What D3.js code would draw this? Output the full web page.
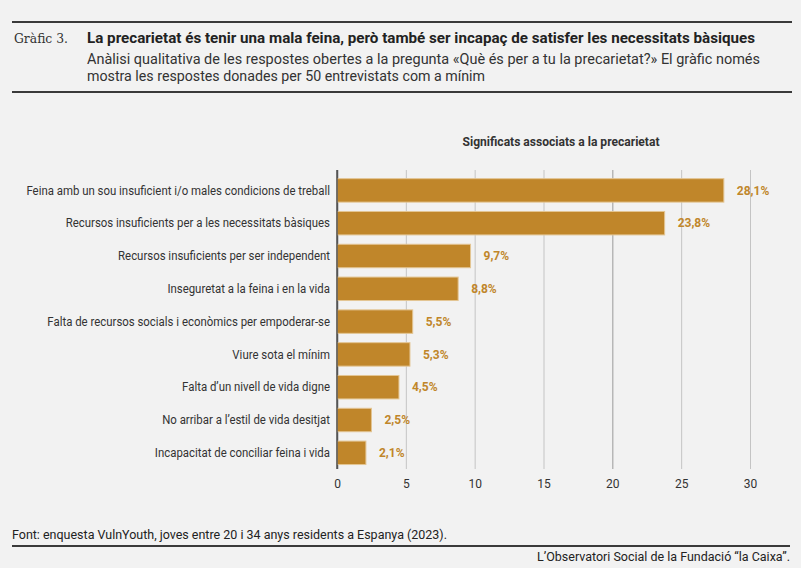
<!DOCTYPE html>
<html>
<head>
<meta charset="utf-8">
<script src="https://cdn.jsdelivr.net/npm/d3@7"></script>
<style>
  html, body { margin: 0; padding: 0; background: #f2f2f2; }
  svg { display: block; font-family: Roboto, "Noto Sans", sans-serif; }
</style>
</head>
<body>
<svg id="chart"></svg>
<script>
// Data
const categories = [
  "Feina amb un sou insuficient i/o males condicions de treball",
  "Recursos insuficients per a les necessitats bàsiques",
  "Recursos insuficients per ser independent",
  "Inseguretat a la feina i en la vida",
  "Falta de recursos socials i econòmics per empoderar-se",
  "Viure sota el mínim",
  "Falta d’un nivell de vida digne",
  "No arribar a l’estil de vida desitjat",
  "Incapacitat de conciliar feina i vida"
];
const values = [28.1, 23.8, 9.7, 8.8, 5.5, 5.3, 4.5, 2.5, 2.1];
const xTicks = [0, 5, 10, 15, 20, 25, 30];

const W = 801, H = 568;
const barColor = "#c0862a";

const svg = d3.select("#chart")
    .attr("width", W)
    .attr("height", H);

svg.append("rect").attr("width", W).attr("height", H).attr("fill", "#f2f2f2");

// stretch/squeeze a text element to a given width (source font is condensed)
function fit(sel, w) {
    sel.attr("textLength", w).attr("lengthAdjust", "spacingAndGlyphs");
    return sel;
}

// Header
svg.append("line").attr("x1", 12).attr("x2", 792).attr("y1", 22).attr("y2", 22)
    .attr("stroke", "#3a3a3a").attr("stroke-width", 2);
svg.append("line").attr("x1", 12).attr("x2", 792).attr("y1", 92).attr("y2", 92)
    .attr("stroke", "#3a3a3a").attr("stroke-width", 2);

svg.append("text")
    .attr("x", 14).attr("y", 43)
    .style("font-family", "'DejaVu Serif', 'Liberation Serif', serif")
    .style("font-size", "13px")
    .attr("fill", "#333")
    .text("Gràfic 3.")
    .call(s => fit(s, 54));

svg.append("text")
    .attr("x", 87).attr("y", 43)
    .style("font-size", "14.5px")
    .style("font-weight", "bold")
    .attr("fill", "#222")
    .text("La precarietat és tenir una mala feina, però també ser incapaç de satisfer les necessitats bàsiques")
    .call(s => fit(s, 668));

const subtitle = [
    "Anàlisi qualitativa de les respostes obertes a la pregunta «Què és per a tu la precarietat?» El gràfic només",
    "mostra les respostes donades per 50 entrevistats com a mínim"
];
const subW = [673, 398];
subtitle.forEach((t, i) => {
    svg.append("text")
        .attr("x", 87).attr("y", 64 + i * 17)
        .style("font-size", "14.5px")
        .attr("fill", "#333")
        .text(t)
        .call(s => fit(s, subW[i]));
});

// Chart
const x = d3.scaleLinear()
    .domain([0, 30])
    .range([337, 750]);

const y = d3.scaleBand()
    .domain(categories)
    .range([170, 469])
    .paddingInner(0.285)
    .paddingOuter(0.2)
    .align(0.66);

svg.append("text")
    .attr("x", 561).attr("y", 146)
    .attr("text-anchor", "middle")
    .style("font-size", "12px")
    .style("font-weight", "bold")
    .attr("fill", "#333")
    .text("Significats associats a la precarietat")
    .call(s => fit(s, 197));

// grid + x axis
const xAxis = svg.append("g")
    .attr("transform", "translate(0,469)")
    .call(d3.axisBottom(x).tickValues(xTicks).tickSize(-299).tickPadding(10));
xAxis.select(".domain").remove();
xAxis.selectAll(".tick line")
    .attr("stroke", d => d === 0 ? "#555" : (d === 20 ? "#9a9a9a" : "#c4c4c4"))
    .attr("stroke-width", d => d === 0 ? 1.5 : 1);
xAxis.selectAll(".tick text")
    .style("font-family", "Roboto, sans-serif")
    .style("font-size", "12px")
    .attr("fill", "#333");

// bars
svg.append("g").selectAll("rect")
    .data(values)
    .join("rect")
    .attr("x", x(0))
    .attr("y", (d, i) => y(categories[i]))
    .attr("width", d => x(d) - x(0))
    .attr("height", y.bandwidth())
    .attr("fill", barColor)
    .attr("stroke", "#e3c593")
    .attr("stroke-width", 1);

// redraw 0 axis line on top
svg.append("line")
    .attr("x1", x(0)).attr("x2", x(0))
    .attr("y1", 170).attr("y2", 469)
    .attr("stroke", "#555").attr("stroke-width", 1.5);

// category labels (squeezed a little, like the condensed source font)
svg.append("g").selectAll("text")
    .data(categories)
    .join("text")
    .attr("x", 330)
    .attr("y", d => y(d) + y.bandwidth() / 2)
    .attr("dy", "0.35em")
    .attr("text-anchor", "end")
    .style("font-size", "12px")
    .attr("fill", "#333")
    .text(d => d)
    .each(function () {
        const len = this.getComputedTextLength();
        d3.select(this).call(s => fit(s, len * 0.95));
    });

// value labels
svg.append("g").selectAll("text")
    .data(values)
    .join("text")
    .attr("x", d => x(d) + 13)
    .attr("y", (d, i) => y(categories[i]) + y.bandwidth() / 2)
    .attr("dy", "0.35em")
    .style("font-size", "12px")
    .style("font-weight", "bold")
    .attr("fill", barColor)
    .text(d => d.toFixed(1).replace(".", ",") + "%");

// Footer
svg.append("text")
    .attr("x", 12).attr("y", 539)
    .style("font-size", "12.5px")
    .attr("fill", "#222")
    .text("Font: enquesta VulnYouth, joves entre 20 i 34 anys residents a Espanya (2023).")
    .call(s => fit(s, 435));

svg.append("line").attr("x1", 12).attr("x2", 790).attr("y1", 546).attr("y2", 546)
    .attr("stroke", "#3a3a3a").attr("stroke-width", 2);

svg.append("text")
    .attr("x", 790).attr("y", 561)
    .attr("text-anchor", "end")
    .style("font-size", "12.5px")
    .attr("fill", "#222")
    .text("L’Observatori Social de la Fundació “la Caixa”.")
    .call(s => fit(s, 253));
</script>
</body>
</html>
